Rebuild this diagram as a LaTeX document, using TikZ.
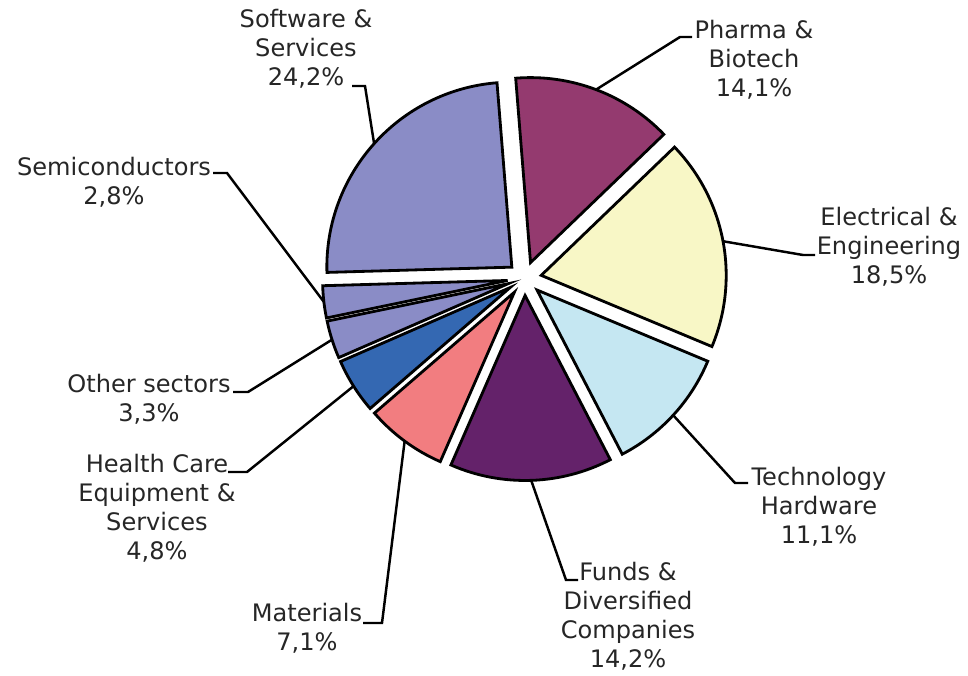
\documentclass[tikz,border=0pt]{standalone}
\usepackage{fontspec}
\usepackage{tikz}
\newfontfamily\chartfont{DejaVu Sans}

\definecolor{pharmacol}{RGB}{148,58,111}
\definecolor{eleccol}{RGB}{248,247,198}
\definecolor{techcol}{RGB}{197,231,242}
\definecolor{fundscol}{RGB}{100,34,106}
\definecolor{matcol}{RGB}{242,125,128}
\definecolor{healthcol}{RGB}{52,104,178}
\definecolor{softcol}{RGB}{138,140,198}

\begin{document}
\begin{tikzpicture}[slice/.style={draw=black, line width=1.6pt},
    leader/.style={draw=black, line width=1.4pt},
    sector/.style={align=center, inner sep=0pt, text=black!85, font=\chartfont\fontsize{13.7}{16.5}\selectfont}]
    \useasboundingbox (0,0) rectangle (19.36,13.5);

    \begin{scope}[shift={(10.49,7.93)}]
    \draw[slice, fill=pharmacol, shift={(69.25:0.34)}] (0,0) -- (43.89:3.7) arc[start angle=43.89, end angle=94.6, radius=3.7] -- cycle;
    \draw[slice, fill=eleccol, shift={(10.63:0.34)}] (0,0) -- (-22.64:3.7) arc[start angle=-22.64, end angle=43.89, radius=3.7] -- cycle;
    \draw[slice, fill=techcol, shift={(-42.6:0.34)}] (0,0) -- (-62.56:3.7) arc[start angle=-62.56, end angle=-22.64, radius=3.7] -- cycle;
    \draw[slice, fill=fundscol, shift={(-88.1:0.34)}] (0,0) -- (-113.63:3.7) arc[start angle=-113.63, end angle=-62.56, radius=3.7] -- cycle;
    \draw[slice, fill=matcol, shift={(-126.4:0.34)}] (0,0) -- (-139.17:3.7) arc[start angle=-139.17, end angle=-113.63, radius=3.7] -- cycle;
    \draw[slice, fill=healthcol, shift={(-147.8:0.34)}] (0,0) -- (-156.43:3.7) arc[start angle=-156.43, end angle=-139.17, radius=3.7] -- cycle;
    \draw[slice, fill=softcol, shift={(-162.37:0.34)}] (0,0) -- (-168.3:3.7) arc[start angle=-168.3, end angle=-156.43, radius=3.7] -- cycle;
    \draw[slice, fill=softcol, shift={(-173.34:0.34)}] (0,0) -- (-178.37:3.7) arc[start angle=-178.37, end angle=-168.3, radius=3.7] -- cycle;
    \draw[slice, fill=softcol, shift={(138.12:0.34)}] (0,0) -- (94.6:3.7) arc[start angle=94.6, end angle=181.63, radius=3.7] -- cycle;

    \coordinate (pharma-p) at (69.25:4.04);
    \coordinate (elec-p) at (10.63:4.04);
    \coordinate (tech-p) at (-42.6:4.04);
    \coordinate (funds-p) at (-88.1:4.04);
    \coordinate (mat-p) at (-126.4:4.04);
    \coordinate (health-p) at (-147.8:4.04);
    \coordinate (other-p) at (-162.37:4.04);
    \coordinate (semi-p) at (-173.34:4.04);
    \coordinate (soft-p) at (138.12:4.04);
    \end{scope}

    \node[sector] (soft) at (6.12,12.52) {Software \&\\Services\\24,2\%};
    \node[sector] (pharma) at (15.08,12.30) {Pharma \&\\Biotech\\14,1\%};
    \node[sector] (elec) at (17.78,8.56) {Electrical \&\\Engineering\\18,5\%};
    \node[sector] (tech) at (16.38,3.36) {Technology\\Hardware\\11,1\%};
    \node[sector] (funds) at (12.56,1.18) {Funds \&\\Diversified\\Companies\\14,2\%};
    \node[sector] (mat) at (6.14,0.94) {Materials\\7,1\%};
    \node[sector] (health) at (3.14,3.34) {Health Care\\Equipment \&\\Services\\4,8\%};
    \node[sector] (other) at (2.98,5.52) {Other sectors\\3,3\%};
    \node[sector] (semi) at (2.28,9.86) {Semiconductors\\2,8\%};

    \coordinate (soft-e) at (7.30,11.78);
    \coordinate (soft-t) at (7.04,11.78);
    \coordinate (pharma-e) at (13.60,12.76);
    \coordinate (pharma-t) at (13.84,12.76);
    \coordinate (elec-e) at (16.06,8.40);
    \coordinate (elec-t) at (16.30,8.40);
    \coordinate (tech-e) at (14.70,3.84);
    \coordinate (tech-t) at (14.96,3.84);
    \coordinate (funds-e) at (11.32,1.90);
    \coordinate (funds-t) at (11.56,1.90);
    \coordinate (mat-e) at (7.64,1.04);
    \coordinate (mat-t) at (7.26,1.04);
    \coordinate (health-e) at (4.94,4.06);
    \coordinate (health-t) at (4.56,4.06);
    \coordinate (other-e) at (4.96,5.66);
    \coordinate (other-t) at (4.66,5.66);
    \coordinate (semi-e) at (4.54,10.04);
    \coordinate (semi-t) at (4.26,10.04);

    \draw[leader] (soft-p) -- (soft-e) -- (soft-t);
    \draw[leader] (pharma-p) -- (pharma-e) -- (pharma-t);
    \draw[leader] (elec-p) -- (elec-e) -- (elec-t);
    \draw[leader] (tech-p) -- (tech-e) -- (tech-t);
    \draw[leader] (funds-p) -- (funds-e) -- (funds-t);
    \draw[leader] (mat-p) -- (mat-e) -- (mat-t);
    \draw[leader] (health-p) -- (health-e) -- (health-t);
    \draw[leader] (other-p) -- (other-e) -- (other-t);
    \draw[leader] (semi-p) -- (semi-e) -- (semi-t);

\end{tikzpicture}
\end{document}
